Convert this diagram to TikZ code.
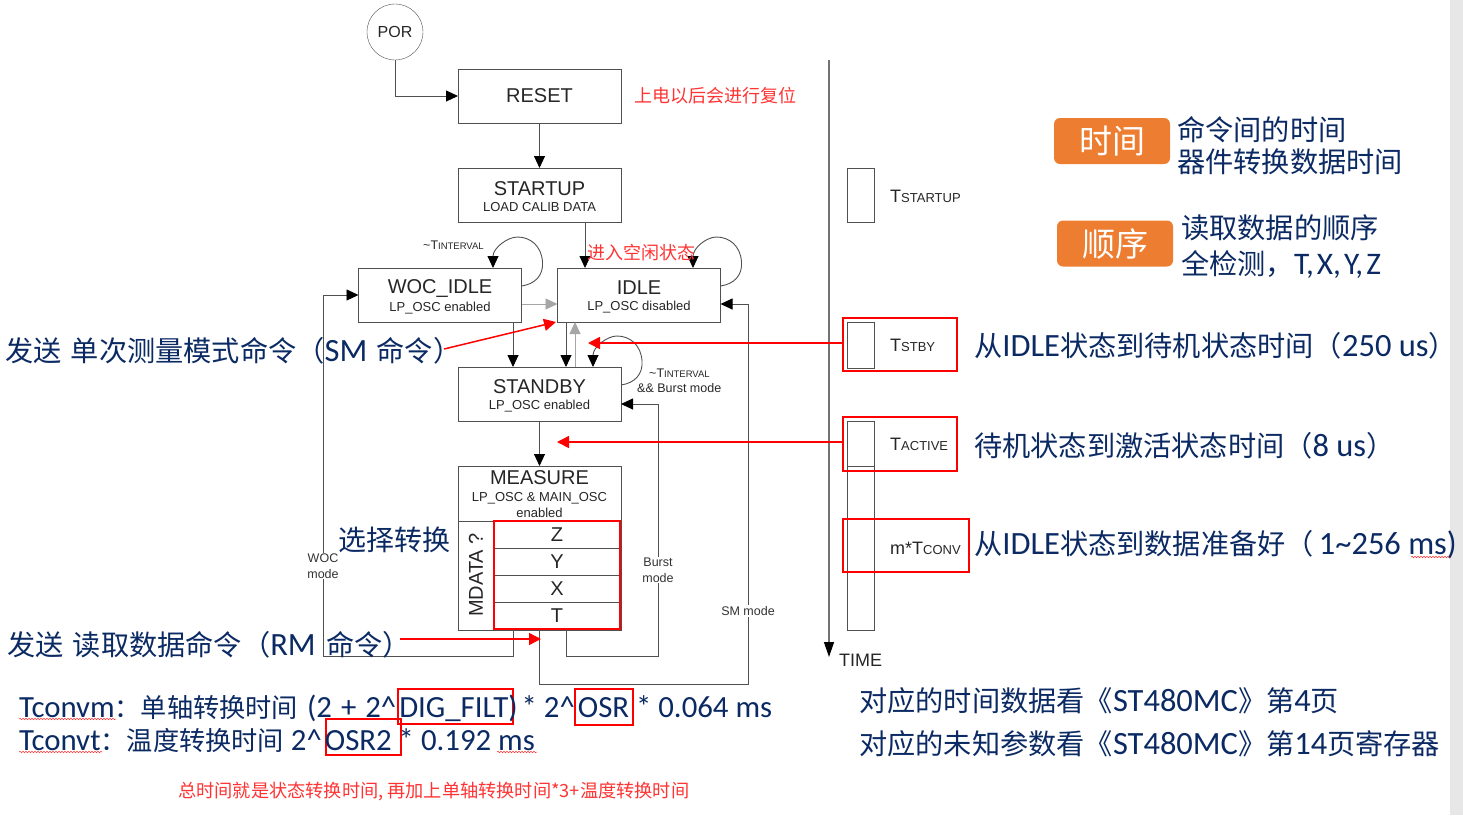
\documentclass[tikz,border=0pt]{standalone}
\usepackage{xcolor}
\usepackage{fontspec}
\usepackage{tikz}
\usetikzlibrary{arrows.meta,positioning,decorations.pathmorphing}
\setmainfont[Scale=1.12]{Carlito}
\newfontfamily\cjk{Noto Sans CJK SC}
\newfontfamily\diagfont{Liberation Sans}
\definecolor{textblue}{HTML}{0B2A63}
\definecolor{linegray}{HTML}{505050}
\definecolor{stripgray}{HTML}{E7E7E7}
\definecolor{noteorange}{HTML}{ED7D31}
\definecolor{notered}{HTML}{FF3333}
\newcommand{\fsize}[1]{\fontsize{#1}{#1}\selectfont}
\newcommand{\cn}[1]{{\cjk\fsize{28.2}#1}}
\newcommand{\cs}[1]{{\cjk\fsize{26.2}#1}}
\newcommand{\statetext}[2]{{\fsize{20}\rule{0pt}{18pt}#1}\\[4pt]{\fsize{13}#2}}
\newcommand{\capslabel}[2]{{\fsize{18}#1}{\fsize{13}#2}}
\newcommand{\selfloop}[2]{\draw[arrow] (#1) .. controls +(14,-2) and +(1,13) .. ++(21,-24) .. controls +(-1,-16) and +(13,0) .. ++(-25,-25) .. controls +(-10,0) and +(0,-20) .. (#2);}
\begin{document}
\begin{tikzpicture}[
	x=1pt,
	y=-1pt,
	statebox/.style={
		rectangle,
		draw=linegray,
		fill=white,
		outer sep=0pt,
		minimum width=163pt,
		minimum height=54pt,
		align=center,
		font=\diagfont,
		text=black!85
	},
	rowbox/.style={
		rectangle,
		draw=linegray,
		outer sep=0pt,
		minimum width=127pt,
		minimum height=27pt,
		font=\diagfont\fsize{20},
		text=black!85
	},
	timebox/.style={
		rectangle,
		draw=linegray,
		outer sep=0pt,
		minimum width=27pt
	},
	timelabel/.style={
		anchor=west,
		inner sep=0pt,
		font=\diagfont,
		text=black!85
	},
	edgelabel/.style={
		fill=white,
		inner sep=1pt,
		align=center,
		font=\diagfont\fsize{12.5},
		text=black!80
	},
	redframe/.style={
		rectangle,
		draw=red,
		line width=2pt,
		outer sep=0pt
	},
	bluetext/.style={
		anchor=west,
		inner sep=0pt,
		text=textblue,
		font=\fsize{29}
	},
	formula/.style={
		anchor=west,
		inner sep=0pt,
		text=textblue,
		font=\fsize{27.5}
	},
	sidetext/.style={
		anchor=west,
		inner sep=0pt,
		text=textblue,
		font=\fsize{28}
	},
	rednote/.style={
		anchor=west,
		inner sep=0pt,
		text=notered,
		font=\cjk\fsize{18}
	},
	tagbox/.style={
		rectangle,
		rounded corners=6pt,
		fill=noteorange,
		text=white,
		minimum width=116pt,
		minimum height=46pt,
		font=\cjk\fsize{33}
	},
	arrow/.style={-{Triangle[length=12pt,width=11pt,black]}, linegray, line width=0.9pt},
	grayarrow/.style={-{Triangle[length=12pt,width=11pt]}, black!35, line width=0.9pt},
	redarrow/.style={-{Triangle[length=12pt,width=12pt]}, red, line width=1.5pt},
	squiggle/.style={red!80, line width=0.5pt, decorate, decoration={snake, amplitude=0.8pt, segment length=3pt}}
	]
	\useasboundingbox (0,0) rectangle (1463,815);
	% Grey strip at the right edge of the slide
	\fill[stripgray] (1450,0) rectangle (1463,815);
	% The states
	\node[circle, draw=linegray, minimum size=56pt, outer sep=0pt, font=\diagfont\fsize{16}, text=black!85] (por) at (395,32) {POR};
	\node[statebox, font=\diagfont\fsize{20}] (reset) at (539.5,96) {RESET};
	\node[statebox, below=45pt of reset] (startup) {\statetext{STARTUP}{LOAD CALIB DATA}};
	\node[statebox] (woc) at (440,295) {\statetext{WOC\_IDLE}{LP\_OSC enabled}};
	\node[statebox] (idle) at (639,295) {\statetext{IDLE}{LP\_OSC disabled}};
	\node[statebox] (standby) at (539.5,394) {\statetext{STANDBY}{LP\_OSC enabled}};
	\node[statebox, minimum height=164pt] (measure) at (539.5,548) {};
	\node[inner sep=0pt, align=center, font=\diagfont\fsize{13}, text=black!85] (measuretext) at (539.5,494.5) {{\fsize{20}MEASURE}\\[4pt]LP\_OSC \& MAIN\_OSC\\[3pt]enabled};
	\node[rectangle, draw=linegray, outer sep=0pt, minimum width=36pt, minimum height=109pt] (mdatabox) at (476,575.5) {};
	\node[rotate=90, font=\diagfont\fsize{20}, text=black!85, inner sep=0pt] (mdata) at (476,575) {MDATA ?};
	\node[rowbox] (rowz) at (557,534.5) {Z};
	\node[rowbox, below=0pt of rowz] (rowy) {Y};
	\node[rowbox, below=0pt of rowy] (rowx) {X};
	\node[rowbox, below=0pt of rowx] (rowt) {T};
	% Connectors between the states
	\draw[arrow] (por.south) |- (reset.west);
	\draw[arrow] (reset.south) -- (startup.north);
	\draw[arrow] ([xshift=45.5pt]startup.south) -- ([xshift=-54pt]idle.north);
	\selfloop{[yshift=9pt]woc.east}{[xshift=53pt]woc.north}
	\selfloop{[yshift=9pt]idle.east}{[xshift=54pt]idle.north}
	\selfloop{[yshift=9pt]standby.east}{[xshift=53.5pt]standby.north}
	\draw[grayarrow] ([yshift=-9pt]woc.east) -- ([yshift=-9pt]idle.west);
	\draw[grayarrow] ([xshift=35.5pt]standby.north) -- ([xshift=-64pt]idle.south);
	\draw[arrow] ([xshift=73pt]woc.south) -- ([xshift=-26.5pt]standby.north);
	\draw[arrow] ([xshift=-73pt]idle.south) -- ([xshift=26.5pt]standby.north);
	\draw[arrow] (standby.south) -- (measure.north);
	% Return paths from the measure state
	\coordinate (wocturn) at (323,656);
	\coordinate (burstturn) at (658,656);
	\coordinate (smturn) at (748,684);
	\draw[arrow] ([xshift=-26.5pt]measure.south) |- (wocturn) |- (woc.west);
	\draw[arrow] ([xshift=26.5pt]measure.south) |- (burstturn) |- ([yshift=-10pt]standby.east);
	\draw[arrow] (measure.south) |- (smturn) |- ([yshift=-9pt]idle.east);
	\node[edgelabel] (woclabel) at (323,566) {WOC\\[3pt]mode};
	\node[edgelabel] (burstlabel) at (658,570) {Burst\\[3pt]mode};
	\node[edgelabel] (smlabel) at (748,611) {SM mode};
	\node[timelabel] (tinterval) at (423,245) {{\fsize{12.5}\textasciitilde T}{\fsize{9.5}INTERVAL}};
	\node[timelabel] (tburst) at (649,373) {{\fsize{12.5}\textasciitilde T}{\fsize{9.5}INTERVAL}};
	\node[timelabel, font=\diagfont\fsize{12.5}] (burstand) at (637,388) {\&\& Burst mode};
	% Time axis with its boxes
	\coordinate (timetop) at (829,60);
	\coordinate (timeend) at (829,657);
	\draw[-{Triangle[length=15pt,width=10pt,black]}, black!55, line width=1.3pt] (timetop) -- (timeend);
	\node[timelabel, font=\diagfont\fsize{18}] (timetext) at (839,660) {TIME};
	\node[timebox, minimum height=54pt] (tstartupbox) at (860.5,195.5) {};
	\node[timebox, minimum height=46pt] (tstbybox) at (860.5,345) {};
	\node[timebox, minimum height=45pt] (tactivebox) at (860.5,443.5) {};
	\node[timebox, minimum height=164pt] (tconvbox) at (860.5,548) {};
	\node[timelabel] (tstartup) at (890,196) {\capslabel{T}{STARTUP}};
	\node[timelabel] (tstby) at (890,345) {\capslabel{T}{STBY}};
	\node[timelabel] (tactive) at (890,444) {\capslabel{T}{ACTIVE}};
	\node[timelabel] (tconv) at (890,548) {\capslabel{m*T}{CONV}};
	% Red frames and arrows
	\node[redframe, minimum width=126pt, minimum height=108pt] (rowframe) at (557,575) {};
	\node[redframe, minimum width=114pt, minimum height=53pt] (tstbyframe) at (900,344) {};
	\node[redframe, minimum width=114pt, minimum height=54pt] (tactiveframe) at (900,444) {};
	\node[redframe, minimum width=126pt, minimum height=53pt] (tconvframe) at (906,545.5) {};
	\node[redframe, minimum width=115pt, minimum height=35pt] (digframe) at (455.5,706.5) {};
	\node[redframe, minimum width=58pt, minimum height=36pt] (osrframe) at (604,707) {};
	\node[redframe, minimum width=75pt, minimum height=36pt] (osrtwoframe) at (363.5,737) {};
	\coordinate (stbytip) at (588,343);
	\coordinate (activetip) at (557,442);
	\coordinate (smstart) at (444,349);
	\coordinate (smtip) at (556,322);
	\coordinate (rmstart) at (400,639);
	\coordinate (rmtip) at (541,639);
	\draw[redarrow] ([yshift=1pt]tstbyframe.west) -- (stbytip);
	\draw[redarrow] ([yshift=2pt]tactiveframe.west) -- (activetip);
	\draw[redarrow] (smstart) -- (smtip);
	\draw[redarrow] (rmstart) -- (rmtip);
	% Notes in red
	\node[rednote] (resetnote) at (634,96) {上电以后会进行复位};
	\node[rednote] (idlenote) at (587,253) {进入空闲状态};
	\node[rednote, font=\cjk\fsize{18.2}] (totalnote) at (178,792) {总时间就是状态转换时间, 再加上单轴转换时间*3+温度转换时间};
	% Notes in blue on the left
	\node[bluetext] (smnote) at (5,351) {\cn{发送\hspace{3pt} 单次测量模式命令（}SM\hspace{2pt} \cn{命令）}};
	\node[bluetext, font=\cjk\fsize{28}] (selectnote) at (338,540) {选择转换};
	\node[bluetext] (rmnote) at (7,645) {\cn{发送\hspace{3pt} 读取数据命令（}RM\hspace{3pt} \cn{命令）}};
	\node[formula] (tconvmnote) at (19,708.5) {Tconvm\cs{：单轴转换时间} \hspace{2pt}(2 \hspace{2pt}+ \hspace{2pt}2\textasciicircum\hspace{3pt}DIG\_FILT)\hspace{-3pt} * 2\textasciicircum\hspace{3pt}OSR * 0.064 ms};
	\node[formula] (tconvtnote) at (19,740) {Tconvt\cs{：温度转换时间} 2\textasciicircum\hspace{3pt}OSR2 * 0.192 ms};
	% Notes in blue on the right
	\node[tagbox] (timetag) at (1112,141) {时间};
	\node[tagbox] (ordertag) at (1115,243.5) {顺序};
	\node[sidetext] (timeone) at (1177,130) {\cn{命令间的时间}};
	\node[sidetext] (timetwo) at (1177,162) {\cn{器件转换数据时间}};
	\node[sidetext] (orderone) at (1181,228) {\cn{读取数据的顺序}};
	\node[sidetext] (ordertwo) at (1181,264) {\cn{全检测，}T,\hspace{3pt}X,\hspace{3pt}Y,\hspace{3pt}Z};
	\node[bluetext] (stbynote) at (974,346) {\cn{从}IDLE\cn{状态到待机状态时间（}250 us\cn{）}};
	\node[bluetext] (activenote) at (974,446) {\cn{待机状态到激活状态时间（}8 us\cn{）}};
	\node[bluetext] (convnote) at (974,545) {\cn{从}IDLE\cn{状态到数据准备好（}\hspace{5pt}1\textasciitilde256 ms)};
	\node[bluetext] (pagenote) at (859,701) {\cn{对应的时间数据看《}ST480MC\cn{》第}4\cn{页}};
	\node[bluetext] (regnote) at (859,744) {\cn{对应的未知参数看《}ST480MC\cn{》第}14\cn{页寄存器}};
	% Spelling marks under some words
	\draw[squiggle] (19,719) -- (116,719);
	\draw[squiggle] (19,752) -- (102,752);
	\draw[squiggle] (497,752) -- (537,752);
	\draw[squiggle] (1411,557) -- (1450,557);
\end{tikzpicture}
\end{document}
